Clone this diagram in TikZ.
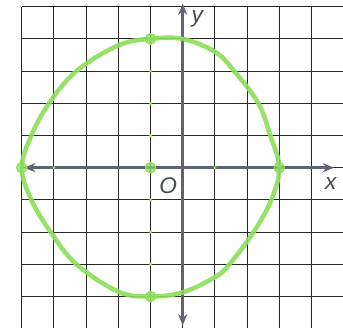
\documentclass[tikz,border=0pt]{standalone}
\usepackage{fontspec}
\setmainfont{Liberation Sans}
\usetikzlibrary{arrows.meta}
\definecolor{grn}{RGB}{140,222,90}
\definecolor{axc}{RGB}{95,100,112}
\definecolor{lblc}{RGB}{70,74,84}
\definecolor{gridc}{RGB}{40,40,40}
\tikzset{
  gridline/.style={draw=gridc, line width=1pt},
  axisline/.style={draw=axc, line width=2.3pt, -{Stealth[length=10pt,width=8pt]}},
  curve/.style={draw=grn, line width=4pt, opacity=0.9},
  bigdot/.style={fill=grn, draw=grn, line width=1pt, fill opacity=0.7},
  tinydot/.style={fill=grn},
  lbl/.style={font=\fontsize{20}{21}\selectfont\itshape, text=lblc, inner sep=0pt}
}
\begin{document}
\begin{tikzpicture}[x=1cm,y=1cm]
\useasboundingbox (-5.674,-4.978) rectangle (4.978,5.208);
\fill[white] (-5.674,-4.978) rectangle (4.978,5.208);
\draw[gridline] (-5,-5) grid (5,5);
% axes
\coordinate (xl) at (-4.93,0);
\coordinate (xr) at (4.7,0);
\coordinate (yt) at (0,5.1);
\coordinate (yb) at (0,-4.9);
\draw[axisline] (0,0) -- (xr);
\draw[axisline] (0,0) -- (xl);
\draw[axisline] (0,0) -- (yt);
\draw[axisline] (0,0) -- (yb);
% labels
\node[lbl] (ylab) at (0.45,4.62) {y};
\node[lbl] (xlab) at (4.6,-0.5) {x};
\node[lbl] (olab) at (-0.45,-0.55) {O};
% hand-drawn circle
\draw[curve] plot[smooth cycle, tension=0.6] coordinates {
  (-5,0) (-4.7,1) (-4.15,2) (-3.3,3) (-2,3.8) (-1,4) (0,4.0) (1,3.6)
  (1.6,3) (2.35,2) (2.72,1) (3,0) (2.75,-1) (2.2,-2) (1.45,-3) (1,-3.4)
  (0,-3.87) (-1,-4) (-2,-3.85) (-3.3,-3) (-4.1,-2) (-4.7,-1)};
% marked points
\foreach \p in {(-1,4),(-5,0),(-1,0),(3,0),(-1,-4)}
  \filldraw[bigdot] \p circle (0.16);
\foreach \p in {(-1,3),(-1,2),(-1,1),(-1,-1),(-1,-2),(-1,-3),(1,0),(-4,0)}
  \fill[tinydot] \p circle (0.05);
\end{tikzpicture}
\end{document}
